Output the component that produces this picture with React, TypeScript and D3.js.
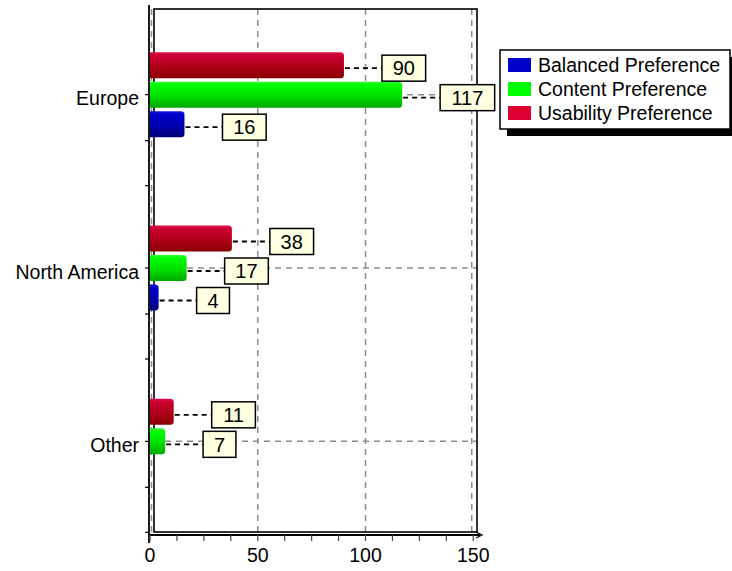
import React from "react";
import * as d3 from "d3";

// Regions on the vertical axis, top to bottom
const regions = ["Europe", "North America", "Other"];
// Series in legend order
const seriesNames = ["Balanced Preference", "Content Preference", "Usability Preference"];
// Values per region for each series
const balanced = [16, 4, 0];
const content = [117, 17, 7];
const usability = [90, 38, 11];
// X axis tick labels
const xTicks = [0, 50, 100, 150];

const W = 732;
const H = 571;
const FONT = "'Liberation Sans', Arial, sans-serif";
const FS = 19.5;

const seriesValues: Record<string, number[]> = {
  "Balanced Preference": balanced,
  "Content Preference": content,
  "Usability Preference": usability,
};

const seriesStyle: Record<string, { id: string; stops: [number, string][]; swatch: string }> = {
  "Usability Preference": {
    id: "gUsab",
    stops: [[0, "#e0104a"], [0.12, "#cc0033"], [0.55, "#b00018"], [1, "#880000"]],
    swatch: "#dd0033",
  },
  "Content Preference": {
    id: "gCont",
    stops: [[0, "#33ff33"], [0.12, "#00ff00"], [0.55, "#00e000"], [1, "#00a800"]],
    swatch: "#00ff00",
  },
  "Balanced Preference": {
    id: "gBal",
    stops: [[0, "#1a1ad8"], [0.12, "#0000cc"], [0.55, "#0000b0"], [1, "#000078"]],
    swatch: "#0000cc",
  },
};

// Frame of the plotting area
const frame = { left: 154, right: 477, top: 9, bottom: 532 };
const axisX = 149;
const axisY = 535;

export default function App() {
  const x = d3.scaleLinear().domain([0, 150]).range([150, 473.25]);
  const y = d3.scaleBand<string>().domain(regions).range([8, 528]);
  // Bars inside a region: Usability on top, then Content, then Balanced
  const inner = d3
    .scaleBand<string>()
    .domain(["Usability Preference", "Content Preference", "Balanced Preference"])
    .range([-44.25, 44.25])
    .paddingInner(0.12)
    .paddingOuter(0.06);

  const center = (r: string) => (y(r) as number) + y.bandwidth() / 2;
  const minorTicks = d3.range(0, 150.01, 12.5);

  const bars: {
    key: string;
    series: string;
    value: number;
    y0: number;
    h: number;
  }[] = [];
  regions.forEach((r, i) => {
    inner.domain().forEach((s) => {
      const v = seriesValues[s][i];
      if (v > 0) {
        bars.push({
          key: r + s,
          series: s,
          value: v,
          y0: center(r) + (inner(s) as number),
          h: inner.bandwidth(),
        });
      }
    });
  });

  const barPath = (x0: number, x1: number, y0: number, h: number) => {
    const rx = Math.min(3.5, (x1 - x0) / 2);
    return `M${x0},${y0} H${x1 - rx} Q${x1},${y0} ${x1},${y0 + rx} V${y0 + h - rx} Q${x1},${y0 + h} ${x1 - rx},${y0 + h} H${x0} Z`;
  };

  const yTickPositions: number[] = [];
  regions.forEach((r) => {
    const c = center(r);
    yTickPositions.push(c, c + 46, c + 91);
  });

  return (
    <svg width={W} height={H} style={{ position: "absolute", left: 0, top: 0, background: "#fff" }}
      fontFamily={FONT}>
      <defs>
        {Object.values(seriesStyle).map((st) => (
          <linearGradient key={st.id} id={st.id} x1="0" y1="0" x2="0" y2="1">
            {st.stops.map(([o, c]) => (
              <stop key={o} offset={o} stopColor={c} />
            ))}
          </linearGradient>
        ))}
      </defs>
      <rect width={W} height={H} fill="#fff" />

      {/* vertical grid lines */}
      {xTicks.map((t) => (
        <line key={"gx" + t} x1={t === 0 ? 151.5 : x(t) - (t === 150 ? 1.5 : 0)}
          x2={t === 0 ? 151.5 : x(t) - (t === 150 ? 1.5 : 0)}
          y1={frame.top} y2={frame.bottom}
          stroke="#8c8c8c" strokeWidth={1.5} strokeDasharray="6,5" />
      ))}
      {/* horizontal grid lines at each region */}
      {regions.map((r) => (
        <line key={"gy" + r} x1={frame.left} x2={frame.right} y1={center(r)} y2={center(r)}
          stroke="#8c8c8c" strokeWidth={1.5} strokeDasharray="6,5" />
      ))}

      {/* plot frame */}
      <rect x={frame.left} y={frame.top} width={frame.right - frame.left}
        height={frame.bottom - frame.top} fill="none" stroke="#000" strokeWidth={1.6} />

      {/* bars */}
      {bars.map((b) => (
        <path key={b.key} d={barPath(x(0), x(b.value), b.y0, b.h)}
          fill={`url(#${seriesStyle[b.series].id})`} />
      ))}

      {/* y axis */}
      <line x1={axisX} x2={axisX} y1={5} y2={543} stroke="#000" strokeWidth={1.8} />
      {yTickPositions.map((p, i) => (
        <line key={"yt" + i} x1={axisX - 4} x2={axisX} y1={p} y2={p} stroke="#000" strokeWidth={1.2} />
      ))}
      {regions.map((r) => (
        <text key={"yl" + r} x={139} y={center(r) + 4} dy="0.35em" textAnchor="end"
          fontSize={FS} fill="#000">{r}</text>
      ))}

      {/* x axis */}
      <line x1={axisX} x2={480} y1={axisY} y2={axisY} stroke="#000" strokeWidth={1.8} />
      <path d={`M476,${axisY - 3} L482,${axisY} L476,${axisY + 3}`} fill="none" stroke="#000" strokeWidth={1.2} />
      {minorTicks.map((t) => (
        <line key={"xt" + t} x1={x(t)} x2={x(t)} y1={axisY} y2={axisY + 6} stroke="#444" strokeWidth={1.2} />
      ))}
      {xTicks.map((t) => (
        <text key={"xl" + t} x={x(t)} y={555} dy="0.35em" textAnchor="middle"
          fontSize={FS} fill="#000">{t}</text>
      ))}

      {/* value labels */}
      {bars.map((b) => {
        const cy = b.y0 + b.h / 2 + 3;
        const xe = x(b.value);
        const bx = xe + 38;
        const txt = String(b.value);
        const bw = txt.length * 0.556 * FS + 22;
        return (
          <g key={"lab" + b.key}>
            <line x1={xe + 1} x2={bx} y1={cy} y2={cy} stroke="#000" strokeWidth={1.8}
              strokeDasharray="5,4" />
            <rect x={bx} y={cy - 13} width={bw} height={26} fill="#ffffe1" stroke="#000"
              strokeWidth={1.5} />
            <text x={bx + bw / 2} y={cy} dy="0.36em" textAnchor="middle" fontSize={FS + 0.5}
              fill="#000">{txt}</text>
          </g>
        );
      })}

      {/* legend */}
      <g>
        <rect x={507} y={57} width={232} height={79} fill="#000" />
        <rect x={500} y={50} width={230} height={79} fill="#fff" stroke="#000" strokeWidth={1.5} />
        {seriesNames.map((s, i) => (
          <g key={"lg" + s}>
            <rect x={508} y={58 + i * 24} width={23} height={14} fill={seriesStyle[s].swatch} />
            <text x={538} y={65 + i * 24} dy="0.35em" fontSize={FS} fill="#000">{s}</text>
          </g>
        ))}
      </g>
    </svg>
  );
}
